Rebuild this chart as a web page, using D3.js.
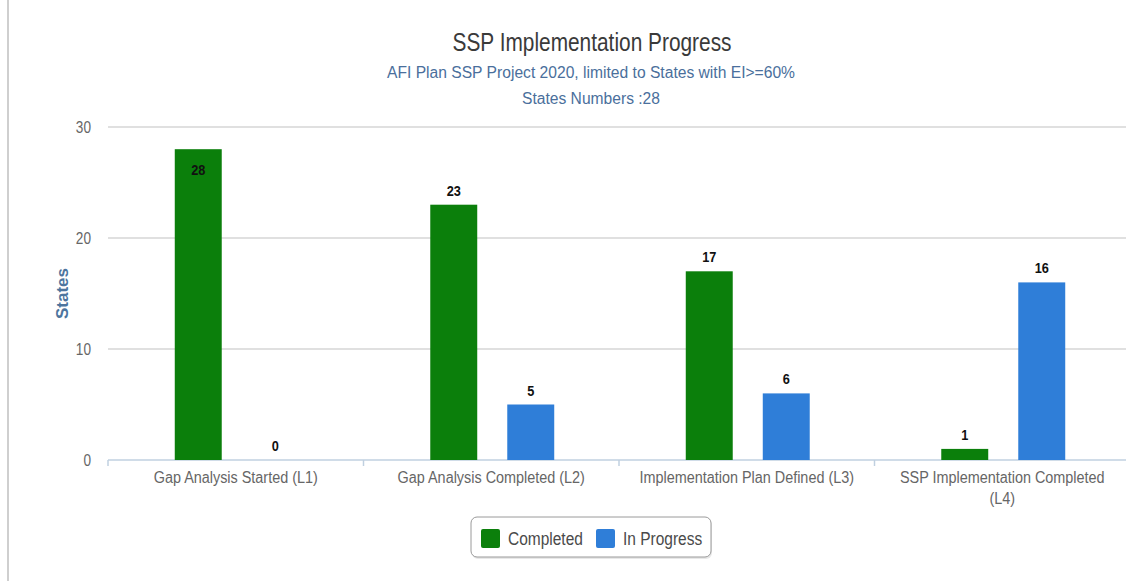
<!DOCTYPE html>
<html>
<head>
<meta charset="utf-8">
<script src="https://cdn.jsdelivr.net/npm/d3@7"></script>
<style>
  body { margin: 0; background: #fff; }
  svg { display: block; font-family: 'Liberation Sans', Arial, sans-serif; }
</style>
</head>
<body>
<div class="chart"></div>
<script>
const categories = [
  'Gap Analysis Started (L1)',
  'Gap Analysis Completed (L2)',
  'Implementation Plan Defined (L3)',
  'SSP Implementation Completed (L4)'
];
const seriesNames = ['Completed', 'In Progress'];
const completed = [28, 23, 17, 1];
const inProgress = [0, 5, 6, 16];
const yTicks = [0, 10, 20, 30];
const colors = ['#0b7f0b', '#2f7ed8'];

const width = 1126;
const height = 581;
const margin = { top: 127, right: -4, bottom: 121, left: 108 };

// the reference uses a narrow font, squeeze text horizontally
const condense = (sel, f) =>
  sel.each(function () {
    const len = this.getComputedTextLength();
    d3.select(this).attr('textLength', len * f).attr('lengthAdjust', 'spacingAndGlyphs');
  });

const svg = d3
  .select('.chart')
  .append('svg')
  .attr('width', width)
  .attr('height', height);

// faint left border of the page
svg
  .append('line')
  .attr('x1', 8)
  .attr('x2', 8)
  .attr('y1', 0)
  .attr('y2', height)
  .attr('stroke', '#cfcfcf')
  .attr('stroke-width', 2);

const x0 = d3
  .scaleBand()
  .domain(categories)
  .range([margin.left, width - margin.right]);

const x1 = d3
  .scaleBand()
  .domain(seriesNames)
  .range([x0.bandwidth() / 2 - 77, x0.bandwidth() / 2 + 77])
  .paddingInner(0.39)
  .paddingOuter(0.195);

const y = d3
  .scaleLinear()
  .domain([0, 30])
  .range([height - margin.bottom, margin.top]);

// grid
svg
  .append('g')
  .selectAll('line')
  .data(yTicks.slice(1))
  .enter()
  .append('line')
  .attr('x1', margin.left)
  .attr('x2', width)
  .attr('y1', (d) => y(d))
  .attr('y2', (d) => y(d))
  .attr('stroke', '#d6d6d6')
  .attr('stroke-width', 1.5);

// y tick labels
svg
  .append('g')
  .selectAll('text')
  .data(yTicks)
  .enter()
  .append('text')
  .attr('x', 91)
  .attr('y', (d) => y(d) + 6)
  .attr('text-anchor', 'end')
  .attr('font-size', '16px')
  .attr('fill', '#666')
  .text((d) => d)
  .call(condense, 0.85);

// y axis title
svg
  .append('text')
  .attr('transform', `translate(68, ${(y(0) + y(30)) / 2}) rotate(-90)`)
  .attr('text-anchor', 'middle')
  .attr('font-size', '17px')
  .attr('font-weight', 'bold')
  .attr('fill', '#4d759e')
  .text('States');

// x axis line + ticks
svg
  .append('line')
  .attr('x1', margin.left)
  .attr('x2', width)
  .attr('y1', y(0))
  .attr('y2', y(0))
  .attr('stroke', '#c0d0e0')
  .attr('stroke-width', 1.5);

svg
  .append('g')
  .selectAll('line')
  .data(categories)
  .enter()
  .append('line')
  .attr('x1', (d) => x0(d))
  .attr('x2', (d) => x0(d))
  .attr('y1', y(0))
  .attr('y2', y(0) + 6)
  .attr('stroke', '#c0d0e0')
  .attr('stroke-width', 1.5);

// x labels (wrapped)
const xLabelLines = [
  ['Gap Analysis Started (L1)'],
  ['Gap Analysis Completed (L2)'],
  ['Implementation Plan Defined (L3)'],
  ['SSP Implementation Completed', '(L4)']
];

svg
  .append('g')
  .selectAll('g')
  .data(categories)
  .enter()
  .append('g')
  .each(function (d, i) {
    d3.select(this)
      .selectAll('text')
      .data(xLabelLines[i])
      .enter()
      .append('text')
      .attr('x', x0(d) + x0.bandwidth() / 2)
      .attr('y', (t, j) => y(0) + 23 + j * 21)
      .attr('text-anchor', 'middle')
      .attr('font-size', '16px')
      .attr('fill', '#666')
      .text((t) => t)
      .call(condense, 0.9);
  });

// bars
const rows = categories.map((c, i) => ({
  category: c,
  values: [
    { key: seriesNames[0], value: completed[i] },
    { key: seriesNames[1], value: inProgress[i] }
  ]
}));

const groups = svg
  .append('g')
  .selectAll('g')
  .data(rows)
  .enter()
  .append('g')
  .attr('transform', (d) => `translate(${x0(d.category)},0)`);

groups
  .selectAll('rect')
  .data((d) => d.values)
  .enter()
  .append('rect')
  .attr('x', (d) => x1(d.key) + 1)
  .attr('y', (d) => y(d.value))
  .attr('width', x1.bandwidth())
  .attr('height', (d) => y(0) - y(d.value))
  .attr('fill', (d, i) => colors[i]);

groups
  .selectAll('text')
  .data((d) => d.values)
  .enter()
  .append('text')
  .attr('x', (d) => x1(d.key) + 1 + x1.bandwidth() / 2)
  .attr('y', (d) => (d.value >= 27 ? y(d.value) + 26 : y(d.value) - 9))
  .attr('text-anchor', 'middle')
  .attr('font-size', '15px')
  .attr('font-weight', 'bold')
  .attr('fill', '#111')
  .text((d) => d.value)
  .call(condense, 0.85);

// titles
svg
  .append('text')
  .attr('x', 592)
  .attr('y', 51)
  .attr('text-anchor', 'middle')
  .attr('font-size', '25px')
  .attr('fill', '#3a3a3a')
  .attr('textLength', 279)
  .attr('lengthAdjust', 'spacingAndGlyphs')
  .text('SSP Implementation Progress');

svg
  .append('text')
  .attr('x', 591)
  .attr('y', 78)
  .attr('text-anchor', 'middle')
  .attr('font-size', '16px')
  .attr('fill', '#4a6f9c')
  .attr('textLength', 408)
  .attr('lengthAdjust', 'spacingAndGlyphs')
  .text('AFI Plan SSP Project 2020, limited to States with EI>=60%');

svg
  .append('text')
  .attr('x', 591)
  .attr('y', 104)
  .attr('text-anchor', 'middle')
  .attr('font-size', '16px')
  .attr('fill', '#4a6f9c')
  .attr('textLength', 138)
  .attr('lengthAdjust', 'spacingAndGlyphs')
  .text('States Numbers :28');

// legend
const legend = svg.append('g').attr('transform', 'translate(471,517)');

legend
  .append('rect')
  .attr('x', 1)
  .attr('y', 2)
  .attr('width', 240)
  .attr('height', 40)
  .attr('rx', 6)
  .attr('fill', '#e8e8e8');

legend
  .append('rect')
  .attr('width', 240)
  .attr('height', 40)
  .attr('rx', 6)
  .attr('fill', '#fff')
  .attr('stroke', '#9a9a9a')
  .attr('stroke-width', 1);

const legendX = [10, 125];
const items = legend
  .selectAll('g')
  .data(seriesNames)
  .enter()
  .append('g')
  .attr('transform', (d, i) => `translate(${legendX[i]},12)`);

items
  .append('rect')
  .attr('width', 19)
  .attr('height', 19)
  .attr('rx', 2)
  .attr('fill', (d, i) => colors[i]);

items
  .append('text')
  .attr('x', 27)
  .attr('y', 16)
  .attr('font-size', '18px')
  .attr('fill', '#4a4a4a')
  .text((d) => d)
  .call(condense, 0.86);
</script>
</body>
</html>
